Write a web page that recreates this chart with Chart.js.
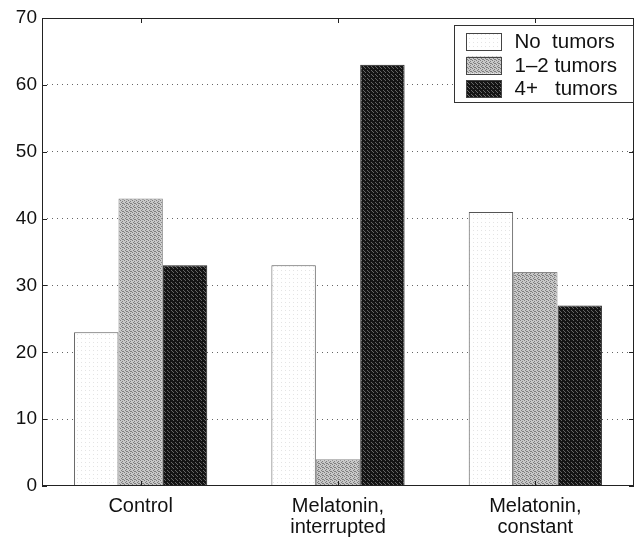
<!DOCTYPE html>
<html>
<head>
<meta charset="utf-8">
<script src="https://cdn.jsdelivr.net/npm/chart.js@4.4.1/dist/chart.umd.min.js"></script>
<style>
  html, body { margin: 0; padding: 0; background: #fff; }
  #wrap { width: 636px; height: 539px; position: relative; }
</style>
</head>
<body>
<div id="wrap"><canvas id="c" width="636" height="539"></canvas></div>
<script>
// ---- data ----
const categories = [["Control"], ["Melatonin,", "interrupted"], ["Melatonin,", "constant"]];
const seriesNames = ["No  tumors", "1\u20132 tumors", "4+   tumors"];
const noTumors = [23, 33, 41];
const oneTwoTumors = [43, 4, 32];
const fourPlusTumors = [33, 63, 27];
const yTicks = [0, 10, 20, 30, 40, 50, 60, 70];

// ---- textures ----
function makePattern(base, dot, cells) {
  const c = document.createElement('canvas');
  c.width = 4; c.height = 4;
  const g = c.getContext('2d');
  g.fillStyle = base; g.fillRect(0, 0, 4, 4);
  g.fillStyle = dot;
  cells.forEach(([x, y]) => g.fillRect(x, y, 1, 1));
  return g.createPattern(c, 'repeat');
}
const ctx = document.getElementById('c').getContext('2d');
const whiteFill = makePattern('#ffffff', '#e4e4e4', [[1, 2]]);
const grayFill = makePattern('#c8c8c8', '#7e7e7e', [[0, 0], [2, 1], [1, 2], [3, 3], [2, 3]]);
const darkFill = makePattern('#141414', '#666666', [[1, 0], [3, 2], [0, 3]]);

const frameAndTicks = {
  id: 'frameAndTicks',
  afterDraw(chart) {
    const { ctx, chartArea: a, scales } = chart;
    ctx.save();
    ctx.strokeStyle = '#222';
    ctx.lineWidth = 1;
    ctx.setLineDash([]);
    ctx.strokeRect(a.left + 0.5, a.top + 0.5, a.right - a.left - 1, a.bottom - a.top - 1);
    const tl = 5;
    ctx.beginPath();
    scales.y.ticks.forEach((t) => {
      const y = Math.round(scales.y.getPixelForValue(t.value)) + 0.5;
      ctx.moveTo(a.left, y); ctx.lineTo(a.left + tl, y);
      ctx.moveTo(a.right - tl, y); ctx.lineTo(a.right, y);
    });
    scales.x.ticks.forEach((t, i) => {
      const x = Math.round(scales.x.getPixelForTick(i)) + 0.5;
      ctx.moveTo(x, a.top); ctx.lineTo(x, a.top + tl);
      ctx.moveTo(x, a.bottom); ctx.lineTo(x, a.bottom - tl);
    });
    ctx.stroke();

    // legend box
    const w = 179, h = 77;
    const lx = Math.round(a.right - 1 - w) + 0.5, ly = Math.round(a.top + 7) + 0.5;
    ctx.fillStyle = '#fff';
    ctx.fillRect(lx, ly, w, h);
    ctx.strokeStyle = '#333';
    ctx.strokeRect(lx, ly, w, h);
    ctx.font = '20.5px "Liberation Sans", Arial, sans-serif';
    ctx.textBaseline = 'middle';
    ctx.textAlign = 'left';
    chart.data.datasets.forEach((ds, i) => {
      const cy = ly + 16 + i * 23.5;
      ctx.fillStyle = ds.backgroundColor;
      ctx.fillRect(lx + 12, cy - 8.5, 35, 17);
      ctx.strokeStyle = '#444';
      ctx.strokeRect(lx + 12, Math.round(cy - 8.5) + 0.5, 35, 17);
      ctx.fillStyle = '#111';
      ctx.fillText(ds.label, lx + 60, cy + 1);
    });
    ctx.restore();
  }
};

new Chart(ctx, {
  type: 'bar',
  data: {
    labels: categories,
    datasets: [
      { label: seriesNames[0], data: noTumors, backgroundColor: whiteFill, borderColor: '#555', borderWidth: 1 },
      { label: seriesNames[1], data: oneTwoTumors, backgroundColor: grayFill, borderColor: '#888', borderWidth: 1 },
      { label: seriesNames[2], data: fourPlusTumors, backgroundColor: darkFill, borderColor: '#222', borderWidth: 1 }
    ]
  },
  options: {
    responsive: false,
    animation: false,
    devicePixelRatio: 1,
    layout: { padding: { top: 18, right: 2, left: 0, bottom: 0 } },
    categoryPercentage: 0.675,
    barPercentage: 1.0,
    plugins: { legend: { display: false }, tooltip: { enabled: false } },
    scales: {
      x: {
        grid: { display: false, drawTicks: false },
        border: { display: false },
        ticks: {
          color: '#111',
          padding: 10,
          maxRotation: 0,
          autoSkip: false,
          font: { family: '"Liberation Sans", Arial, sans-serif', size: 20, lineHeight: 1.05 }
        },
        afterFit(scale) { scale.height = 53; }
      },
      y: {
        min: 0, max: 70,
        afterBuildTicks(scale) { scale.ticks = yTicks.map(v => ({ value: v })); },
        grid: {
          drawTicks: false,
          lineWidth: 1,
          color: (c) => (c.tick && (c.tick.value === 0 || c.tick.value === 70)) ? 'rgba(0,0,0,0)' : '#666'
        },
        border: { display: false, dash: [1, 4] },
        ticks: {
          color: '#111',
          padding: 5,
          font: { family: '"Liberation Sans", Arial, sans-serif', size: 19 }
        },
        afterFit(scale) { scale.width = 42; }
      }
    }
  },
  plugins: [frameAndTicks]
});
</script>
</body>
</html>
